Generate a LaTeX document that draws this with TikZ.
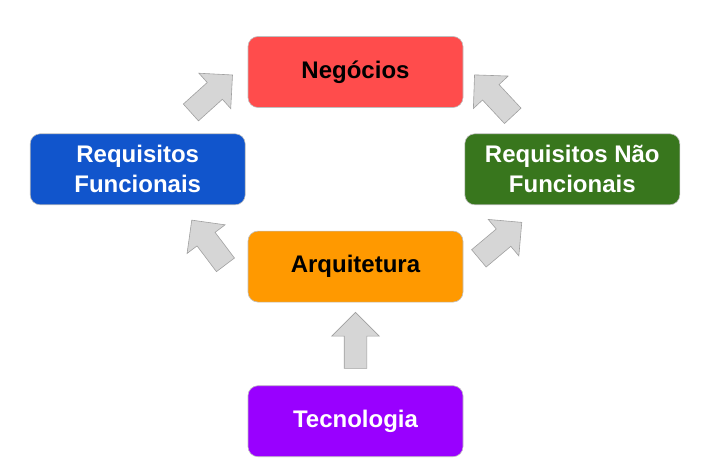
\documentclass[tikz,border=0pt]{standalone}
\usepackage{fontspec}
\setmainfont{Liberation Sans}
\usepackage{tikz}
\definecolor{negred}{RGB}{255, 76, 76}
\definecolor{funcblue}{RGB}{17, 85, 204}
\definecolor{nfgreen}{RGB}{56, 118, 29}
\definecolor{arqorange}{RGB}{255, 153, 0}
\definecolor{tecpurple}{RGB}{153, 0, 255}
\definecolor{arrowfill}{RGB}{214, 214, 214}
\definecolor{arrowline}{RGB}{160, 160, 160}
\usetikzlibrary{shapes.arrows, positioning, calc}

\begin{document}
\begin{tikzpicture}[
    x=1pt, y=1pt,
    box/.style={draw=gray!50, rectangle, rounded corners=10pt, line width=0.6pt,
                minimum width=215pt, minimum height=71pt, inner sep=2pt,
                align=center, font=\fontsize{24}{30}\selectfont\bfseries},
    bigarrow/.style={single arrow, draw=arrowline, fill=arrowfill, line width=0.6pt,
                     minimum height=56pt, inner xsep=0pt, inner ysep=11pt,
                     single arrow head extend=12.5pt, single arrow head indent=0pt}
]
    \useasboundingbox (0,0) rectangle (721,-465);
    % Nodes
    \node[box, fill=negred, text=black] (neg) at (355.5,-72) {Negócios};
    \node[box, fill=arqorange, text=black, below=123pt of neg] (arq) {Arquitetura};
    \node[box, fill=tecpurple, text=white, below=83pt of arq] (tec) {Tecnologia};
    \coordinate (mid) at ($(neg)!0.5!(arq)$);
    \node[box, fill=funcblue, text=white, left=110pt of mid] (func) {Requisitos\\Funcionais};
    \node[box, fill=nfgreen, text=white, right=109pt of mid] (nfunc) {Requisitos Não\\Funcionais};

    % Arrows
    \node[bigarrow, rotate=42] (func-neg) at (207.5,-97.5) {};
    \node[bigarrow, rotate=133] (nfunc-neg) at (497.5,-99.5) {};
    \node[bigarrow, rotate=127] (arq-func) at (212,-247) {};
    \node[bigarrow, rotate=40] (arq-nfunc) at (496,-244) {};
    \node[bigarrow, rotate=90] (tec-arq) at (355.5,-346) {};
\end{tikzpicture}
\end{document}
